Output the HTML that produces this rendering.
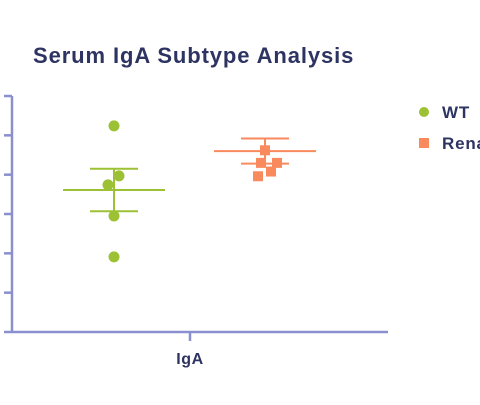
<!DOCTYPE html>
<html><head><meta charset="utf-8"><style>
body{margin:0;background:#fff;width:480px;height:400px;overflow:hidden;font-family:"Liberation Sans",sans-serif}
</style></head><body>
<svg width="480" height="400">
<text x="33" y="63" font-size="22" font-weight="bold" letter-spacing="0.9" fill="#2e3462">Serum IgA Subtype Analysis</text>
<g id="axes"></g><g id="marks"></g>
<g>
<circle cx="424" cy="112" r="5" fill="#9dc134"/>
<text x="442" y="118" font-size="17" font-weight="bold" letter-spacing="0.8" fill="#2e3462">WT</text>
<rect x="419" y="138" width="10" height="10" fill="#f98a5e"/>
<text x="442" y="149" font-size="17" font-weight="bold" letter-spacing="0.8" fill="#2e3462">Renal</text>
</g>
</svg>
<script>
const categories=["IgA"];
const yTicks=[0,1,2,3,4,5,6];
const wtValues=[5.24,3.97,3.74,2.95,1.91];
const wtJitter=[0,5,-6,0,0];
const wtMean=3.61, wtErr=0.54;
const renValues=[4.62,4.3,4.3,4.08,3.96];
const renJitter=[0,-4,12,6,-7];
const renMean=4.6, renErr=0.32;
const NS="http://www.w3.org/2000/svg";
const y=v=>332-v*39.33;
function mk(p,t,a){const e=document.createElementNS(NS,t);for(const k in a)e.setAttribute(k,a[k]);p.appendChild(e);return e;}
const ax=document.getElementById('axes'),mg=document.getElementById('marks');
const AC="#8a8fcf";
let e=mk(ax,'line',{x1:12,x2:12,y1:y(6),y2:332,stroke:AC,'stroke-width':2.5});

yTicks.forEach(t=>{const l=mk(ax,'line',{x1:4,x2:12,y1:y(t),y2:y(t),stroke:AC,'stroke-width':2.5});
});
e=mk(ax,'line',{x1:12,x2:388,y1:332,y2:332,stroke:AC,'stroke-width':2.5});

e=mk(ax,'line',{x1:190,x2:190,y1:332,y2:341,stroke:AC,'stroke-width':2.5});

e=mk(ax,'text',{x:190,y:364,'text-anchor':'middle','font-size':16,'font-weight':'bold',fill:'#2e3462','letter-spacing':0.6});
e.textContent=categories[0];

function group(cx,vals,jit,mean,err,col,sq,name){
 const g=mk(mg,'g',{});
 
 mk(g,'line',{x1:cx,x2:cx,y1:y(mean+err),y2:y(mean-err),stroke:col,'stroke-width':2});
 mk(g,'line',{x1:cx-51,x2:cx+51,y1:y(mean),y2:y(mean),stroke:col,'stroke-width':2});
 mk(g,'line',{x1:cx-24,x2:cx+24,y1:y(mean+err),y2:y(mean+err),stroke:col,'stroke-width':2});
 mk(g,'line',{x1:cx-24,x2:cx+24,y1:y(mean-err),y2:y(mean-err),stroke:col,'stroke-width':2});
 vals.forEach((v,i)=>{let p;
  if(sq)p=mk(g,'rect',{x:cx+jit[i]-5,y:y(v)-5,width:10,height:10,fill:col});
  else p=mk(g,'circle',{cx:cx+jit[i],cy:y(v),r:5.5,fill:col});
  });
}
group(114,wtValues,wtJitter,wtMean,wtErr,'#9dc134',false,'wt');
group(265,renValues,renJitter,renMean,renErr,'#f98a5e',true,'ren');
</script>
</body></html>
